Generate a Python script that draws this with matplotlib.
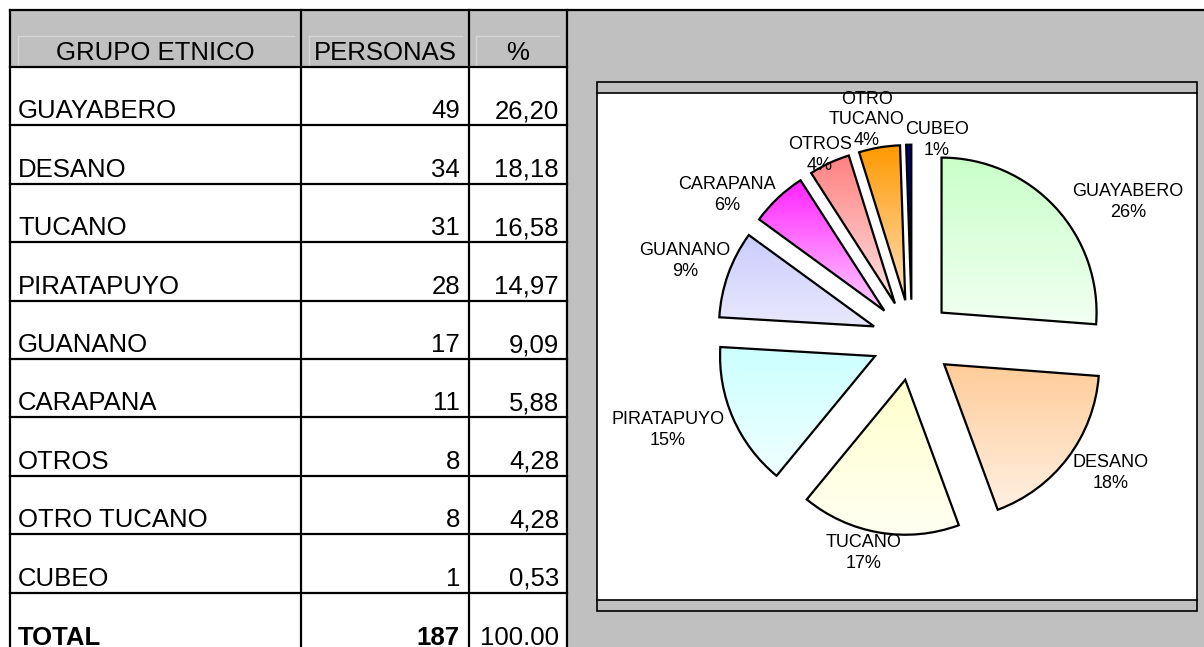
import numpy as np
import matplotlib.pyplot as plt
from matplotlib.colors import to_rgb
from matplotlib.patches import Rectangle

plt.rcParams['font.family'] = ['Liberation Sans', 'DejaVu Sans']

# --- data ---
encabezados = ["GRUPO ETNICO", "PERSONAS", "%"]
grupos = ["GUAYABERO", "DESANO", "TUCANO", "PIRATAPUYO", "GUANANO",
          "CARAPANA", "OTROS", "OTRO TUCANO", "CUBEO"]
personas = [49, 34, 31, 28, 17, 11, 8, 8, 1]
porcentaje = [26.20, 18.18, 16.58, 14.97, 9.09, 5.88, 4.28, 4.28, 0.53]
total_label = "TOTAL"
total_personas = 187
total_pct = "100.00"
pie_nombres = ["GUAYABERO", "DESANO", "TUCANO", "PIRATAPUYO", "GUANANO",
               "CARAPANA", "OTROS", "OTRO\nTUCANO", "CUBEO"]

# --- styles / layout (pixels, y measured from top) ---
top_cols = ["#c8ffc8", "#ffcc99", "#ffffcc", "#ccffff", "#ccccff",
            "#ff22ff", "#ff8080", "#ff9900", "#000080"]
bot_cols = ["#f2fff2", "#fff0e2", "#fffff2", "#f0ffff", "#e8e8fc",
            "#ffd0ff", "#ffe4e4", "#ffe0bc", "#000090"]
label_xy = [(1128, 202), (1111, 473), (864, 553), (668, 430), (685, 261),
            (727, 195), (820, 155), (867, 120), (937, 140)]

W, H = 1204, 647
GRAY = "#c0c0c0"
col_x = [10, 301, 469, 567]
top_y, head_y = 10, 67
row_h = 58.4
fs = 18.5

fig = plt.figure(figsize=(W / 100, H / 100), dpi=100)
bg = fig.add_axes([0, 0, 1, 1])
bg.set_xlim(0, W)
bg.set_ylim(H, 0)
bg.axis('off')

# background areas
bg.add_patch(Rectangle((col_x[3], top_y), W - col_x[3], H - top_y, color=GRAY, lw=0))
bg.add_patch(Rectangle((col_x[0], top_y), col_x[3] - col_x[0], head_y - top_y, color=GRAY, lw=0))

# faint 3d lines inside header cells
for x0, x1 in [(18, 294), (309, 462), (476, 559)]:
    bg.plot([x0, x1], [36, 36], color="#d6d6d6", lw=1)
    bg.plot([x0, x0], [36, head_y - 1], color="#d6d6d6", lw=1)

# table lines
lw = 1.6
bg.plot([col_x[0], W], [top_y, top_y], color='black', lw=lw)
for x in col_x:
    bg.plot([x, x], [top_y, H], color='black', lw=lw)
n = len(grupos)
row_lines = [head_y + row_h * k for k in range(n + 1)]
for y in row_lines:
    bg.plot([col_x[0], col_x[3]], [y, y], color='black', lw=lw)

# header text
for i, h in enumerate(encabezados):
    bg.text((col_x[i] + col_x[i + 1]) / 2, 60, h, ha='center', va='baseline', fontsize=fs)

# rows
for k in range(n):
    yb = row_lines[k + 1] - 7
    bg.text(18, yb, grupos[k], ha='left', va='baseline', fontsize=fs)
    bg.text(col_x[2] - 9, yb, str(personas[k]), ha='right', va='baseline', fontsize=fs)
    bg.text(col_x[3] - 8, yb, f"{porcentaje[k]:.2f}".replace('.', ','),
            ha='right', va='baseline', fontsize=fs)
yb = row_lines[-1] + 52
bg.text(18, yb, total_label, ha='left', va='baseline', fontsize=fs, fontweight='bold')
bg.text(col_x[2] - 9, yb, str(total_personas), ha='right', va='baseline', fontsize=fs, fontweight='bold')
bg.text(col_x[3] - 8, yb, total_pct, ha='right', va='baseline', fontsize=fs)

# chart frame
fx0, fx1, fy0, fy1 = 597, 1197, 93, 600
band = 11
bg.add_patch(Rectangle((fx0, fy0), fx1 - fx0, fy1 - fy0, facecolor='white', lw=0))
bg.add_patch(Rectangle((fx0, fy0 - band), fx1 - fx0, fy1 - fy0 + 2 * band,
                       facecolor='none', edgecolor='black', lw=1.2))
bg.plot([fx0, fx1], [fy0, fy0], color='black', lw=1.2)
bg.plot([fx0, fx1], [fy1, fy1], color='black', lw=1.2)

# pie axes: 1 data unit = r pixels
cx, cy, r = 912, 340, 155
ax = fig.add_axes([fx0 / W, 1 - fy1 / H, (fx1 - fx0) / W, (fy1 - fy0) / H])
wedges, _ = ax.pie(personas, explode=[0.26] * n, startangle=90, counterclock=False,
                   wedgeprops=dict(lw=1.6, edgecolor='black', facecolor='none'))

grad = np.linspace(0, 1, 256)[:, None, None]
for w, c1, c2 in zip(wedges, top_cols, bot_cols):
    w.set_zorder(3)
    bb = w.get_path().get_extents()
    img = (1 - grad) * np.array(to_rgb(c1)) + grad * np.array(to_rgb(c2))
    im = ax.imshow(img, extent=(bb.x0, bb.x1, bb.y0, bb.y1), origin='upper',
                   aspect='auto', interpolation='bilinear', zorder=2)
    im.set_clip_path(w)

ax.set_xlim(-(cx - fx0) / r, (fx1 - cx) / r)
ax.set_ylim(-(fy1 - cy) / r, (cy - fy0) / r)
ax.set_aspect('auto')
ax.axis('off')

# slice labels
tot = sum(personas)
for name, v, (lx, ly) in zip(pie_nombres, personas, label_xy):
    ax.text(lx, ly, f"{name}\n{round(100 * v / tot)}%", transform=bg.transData,
            ha='center', va='center', fontsize=13, linespacing=1.25, zorder=5)

fig.savefig("out.png", dpi=100)
